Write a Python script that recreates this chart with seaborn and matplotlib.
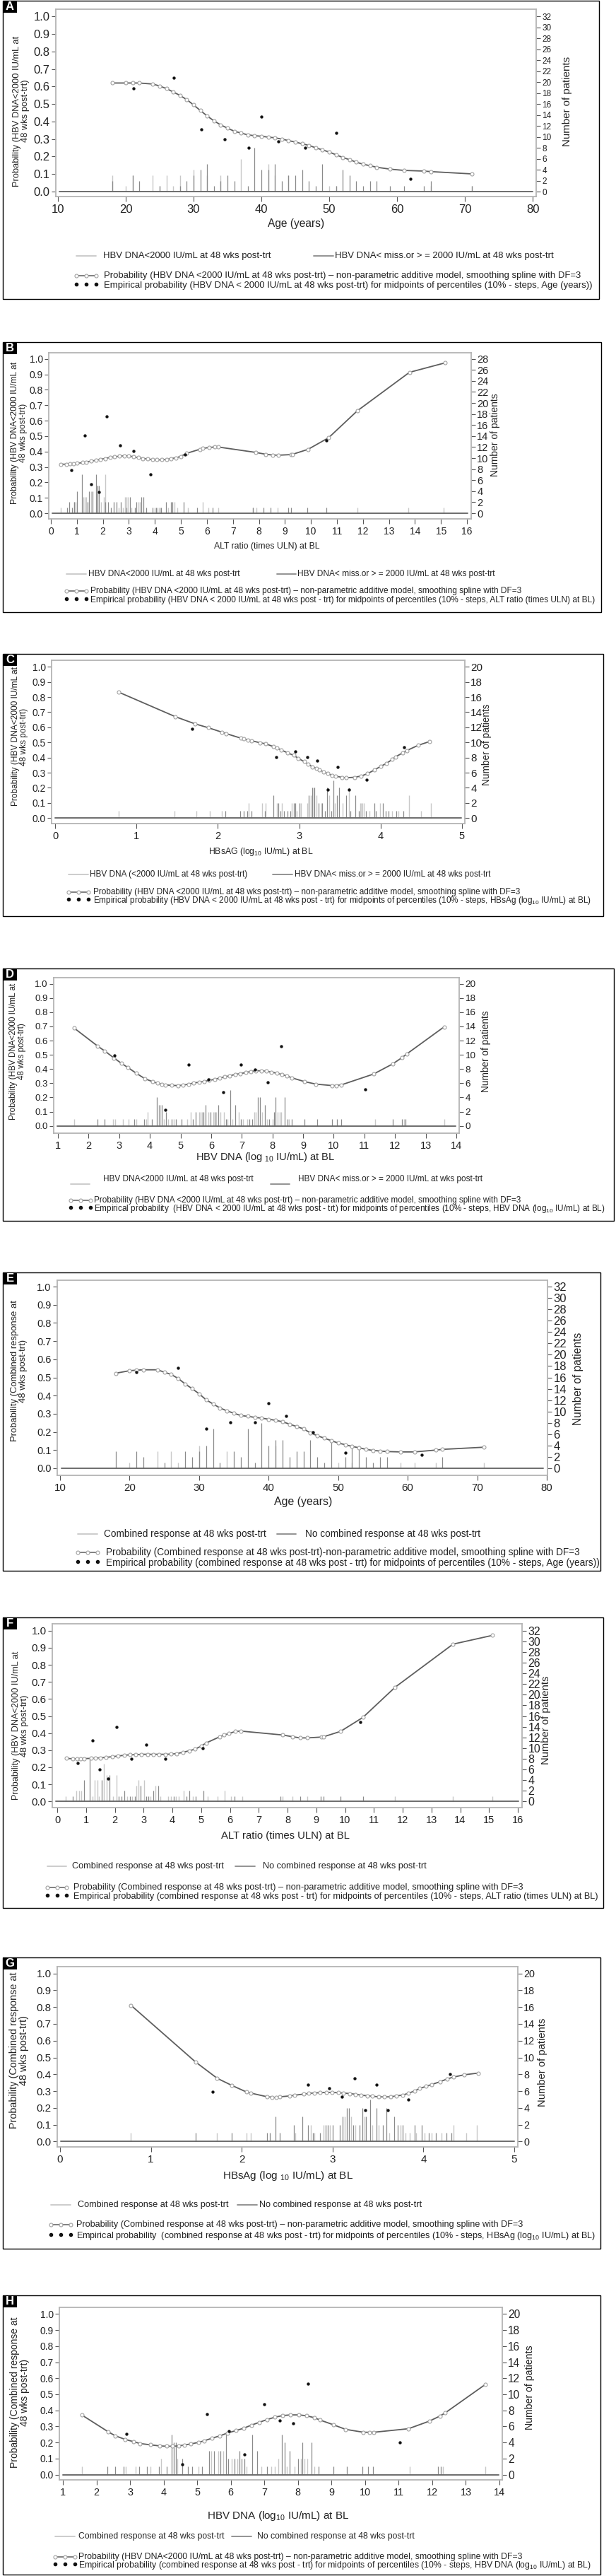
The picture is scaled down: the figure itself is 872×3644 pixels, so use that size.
import matplotlib
matplotlib.use("Agg")
import matplotlib.pyplot as plt
import seaborn as sns
from matplotlib.lines import Line2D
from matplotlib.patches import Rectangle

# ---------------------------------------------------------------- DATA
# Panel A / E : Age (years)
A_needle_x = [18, 20, 21, 22, 24, 25, 26, 27, 28, 29, 30, 31, 32, 33, 34, 35, 36, 37, 38, 39, 40, 41, 42,
              43, 44, 45, 46, 47, 48, 49, 50, 51, 52, 53, 54, 55, 56, 57, 59, 61, 64, 65, 71]
A_resp = [3, 1, 3, 0, 3, 1, 3, 1, 3, 0, 4, 0, 3, 0, 3, 0, 0, 6, 0, 0, 0, 5, 3,
          0, 3, 0, 0, 0, 0, 0, 1, 1, 0, 0, 0, 0, 0, 0, 0, 0, 0, 1, 1]
A_noresp = [2, 0, 3, 2, 0, 1, 0, 0, 1, 2, 3, 4, 5, 1, 2, 3, 2, 0, 1, 8, 4, 4, 5,
            2, 3, 3, 4, 2, 1, 5, 0, 1, 4, 3, 2, 1, 2, 2, 1, 1, 1, 2, 1]
A_curve_x = [18, 20, 21, 22, 24, 25, 26, 27, 28, 29, 30, 31, 32, 33, 34, 35, 36, 37, 38, 39, 40, 41, 42,
             43, 44, 45, 46, 47, 48, 49, 50, 51, 52, 53, 54, 55, 56, 57, 59, 61, 64, 65, 71]
A_curve_y = [0.620, 0.620, 0.620, 0.620, 0.614, 0.603, 0.588, 0.569, 0.549, 0.525, 0.495, 0.463, 0.432,
             0.404, 0.381, 0.362, 0.345, 0.334, 0.324, 0.319, 0.316, 0.311, 0.307, 0.300, 0.291, 0.283,
             0.273, 0.264, 0.250, 0.238, 0.226, 0.210, 0.195, 0.182, 0.168, 0.156, 0.148, 0.139, 0.128,
             0.121, 0.117, 0.114, 0.101]
A_emp_x = [21.1, 27.1, 31.1, 34.6, 38.1, 40.0, 42.5, 46.5, 51.0, 62.0]
A_emp_y = [0.588, 0.650, 0.357, 0.300, 0.249, 0.428, 0.285, 0.249, 0.334, 0.071]

E_needle_x = [18, 20, 21, 22, 24, 25, 26, 27, 28, 29, 30, 31, 32, 33, 34, 35, 36, 37, 38, 39, 40, 41, 42,
              43, 44, 45, 46, 47, 48, 49, 50, 51, 52, 53, 54, 55, 56, 57, 59, 61, 64, 65, 71]
E_resp = [0, 1, 0, 0, 3, 0, 3, 1, 0, 0, 4, 0, 0, 0, 3, 0, 0, 0, 0, 0, 0, 4, 0,
          0, 0, 0, 0, 0, 0, 0, 1, 0, 1, 0, 0, 0, 0, 0, 1, 1, 1, 0, 1]
E_noresp = [3, 0, 3, 2, 0, 1, 0, 0, 3, 2, 3, 4, 7, 1, 0, 3, 2, 7, 1, 8, 4, 5, 5,
            2, 3, 3, 5, 2, 1, 5, 0, 2, 4, 4, 2, 1, 2, 2, 0, 0, 0, 2, 0]
E_curve_x = [18, 20, 21, 22, 24, 25, 26, 27, 28, 29, 30, 31, 32, 33, 34, 35, 36, 37, 38, 39, 40, 41, 42,
             43, 44, 45, 46, 47, 48, 49, 50, 51, 52, 53, 54, 55, 56, 57, 59, 61, 64, 65, 71]
E_curve_y = [0.523, 0.537, 0.540, 0.542, 0.542, 0.529, 0.516, 0.494, 0.464, 0.438, 0.410, 0.377, 0.354,
             0.332, 0.316, 0.303, 0.290, 0.286, 0.280, 0.276, 0.270, 0.264, 0.256, 0.243, 0.230, 0.217,
             0.195, 0.179, 0.166, 0.152, 0.139, 0.130, 0.120, 0.113, 0.104, 0.098, 0.095, 0.092, 0.090,
             0.090, 0.100, 0.104, 0.116]
E_emp_x = [21.0, 27.0, 31.0, 34.5, 38.0, 40.0, 42.5, 46.4, 51.0, 62.0]
E_emp_y = [0.529, 0.551, 0.216, 0.251, 0.251, 0.359, 0.289, 0.200, 0.085, 0.074]

# Panel B / F : ALT ratio (times ULN)
B_needle_x = [0.37, 0.62, 0.71, 0.82, 0.89, 0.95, 1.01, 1.20, 1.25, 1.31, 1.36, 1.42, 1.48, 1.54, 1.61,
              1.73, 1.80, 1.86, 1.93, 2.05, 2.10, 2.21, 2.32, 2.41, 2.52, 2.62, 2.70, 2.77, 2.84, 2.90,
              2.97, 3.03, 3.09, 3.22, 3.29, 3.36, 3.41, 3.47, 3.56, 3.66, 3.92, 3.98, 4.05, 4.11, 4.18,
              4.23, 4.43, 4.52, 4.61, 4.67, 4.75, 4.87, 5.12, 5.26, 5.62, 5.85, 6.05, 6.21, 6.43, 7.78,
              7.90, 8.17, 8.46, 8.71, 9.13, 9.24, 9.85, 10.60, 11.78, 13.75, 15.10]
B_resp = [1, 0, 0, 0, 2, 2, 0, 0, 3, 3, 3, 0, 0, 4, 0, 0, 5, 0, 2, 3, 7, 0, 0, 0, 0, 1, 0, 1, 3, 3,
          3, 0, 1, 0, 0, 2, 2, 0, 0, 0, 0, 1, 0, 1, 0, 0, 0, 1, 0, 0, 2, 1, 0, 1, 0, 2, 1, 0, 1, 1,
          1, 0, 0, 1, 0, 0, 0, 0, 1, 1, 1]
B_noresp = [0, 1, 2, 1, 2, 0, 4, 7, 0, 0, 0, 2, 4, 0, 4, 7, 5, 5, 0, 0, 2, 2, 1, 2, 2, 0, 2, 0, 0, 1,
            0, 3, 0, 1, 2, 0, 0, 3, 3, 1, 1, 0, 1, 0, 1, 1, 2, 0, 2, 2, 0, 0, 2, 0, 1, 0, 0, 1, 0, 1,
            0, 1, 1, 0, 1, 1, 1, 1, 0, 0, 0]
B_curve_x = [0.37, 0.60, 0.73, 0.87, 1.00, 1.23, 1.37, 1.55, 1.73, 1.91, 2.09, 2.27, 2.45, 2.64, 2.82,
             3.00, 3.18, 3.36, 3.54, 3.72, 3.90, 4.08, 4.27, 4.45, 4.63, 4.81, 4.99, 5.22, 5.72, 5.85,
             6.08, 6.30, 6.44, 7.88, 8.26, 8.53, 8.76, 9.24, 9.30, 9.89, 10.68, 11.78, 13.79, 15.15]
B_curve_y = [0.317, 0.318, 0.320, 0.321, 0.323, 0.328, 0.332, 0.337, 0.343, 0.349, 0.355, 0.361, 0.366,
             0.369, 0.372, 0.371, 0.366, 0.360, 0.355, 0.351, 0.348, 0.346, 0.346, 0.349, 0.354, 0.359,
             0.368, 0.388, 0.414, 0.420, 0.426, 0.429, 0.429, 0.394, 0.382, 0.377, 0.376, 0.380, 0.382,
             0.414, 0.489, 0.663, 0.913, 0.974]
B_emp_x = [0.80, 1.30, 1.56, 1.84, 2.15, 2.65, 3.17, 3.82, 5.15, 10.60]
B_emp_y = [0.279, 0.504, 0.189, 0.136, 0.626, 0.440, 0.403, 0.252, 0.379, 0.470]

F_needle_x = [0.30, 0.54, 0.66, 0.75, 0.84, 0.93, 1.13, 1.22, 1.29, 1.39, 1.45, 1.54, 1.63, 1.73, 1.82,
              1.93, 2.05, 2.14, 2.24, 2.34, 2.42, 2.52, 2.61, 2.70, 2.76, 2.82, 2.89, 3.01, 3.09, 3.17,
              3.24, 3.34, 3.42, 3.50, 3.58, 3.85, 3.95, 4.04, 4.12, 4.22, 4.40, 4.49, 4.60, 4.70, 4.81,
              5.08, 5.22, 5.58, 5.81, 6.03, 6.17, 6.43, 7.76, 7.83, 8.17, 8.44, 8.69, 9.16, 9.26, 9.84,
              10.62, 11.74, 13.75, 15.11]
F_resp = [1, 0, 2, 2, 2, 0, 0, 1, 4, 4, 1, 0, 7, 5, 0, 1, 5, 0, 0, 0, 1, 0, 1, 0, 3, 4, 0, 4, 0, 0,
          1, 0, 3, 0, 1, 1, 1, 0, 1, 1, 2, 0, 0, 1, 0, 0, 1, 1, 2, 1, 0, 1, 0, 1, 1, 0, 1, 0, 0, 0,
          0, 1, 1, 1]
F_noresp = [0, 1, 0, 0, 0, 4, 8, 0, 0, 0, 0, 4, 0, 0, 5, 0, 0, 1, 1, 2, 0, 1, 0, 1, 0, 0, 3, 0, 1, 1,
            0, 2, 0, 3, 0, 0, 0, 1, 0, 0, 0, 1, 2, 0, 1, 2, 0, 0, 0, 0, 1, 0, 1, 0, 0, 1, 0, 1, 1, 1,
            1, 0, 0, 0]
F_curve_x = [0.31, 0.54, 0.68, 0.81, 0.93, 1.18, 1.32, 1.50, 1.70, 1.91, 2.11, 2.32, 2.52, 2.73, 2.93,
             3.13, 3.34, 3.54, 3.75, 3.95, 4.15, 4.38, 4.59, 4.79, 5.00, 5.17, 5.65, 5.79, 5.96, 6.19,
             6.38, 7.83, 8.17, 8.44, 8.69, 9.19, 9.26, 9.84, 10.62, 11.74, 13.75, 15.11]
F_curve_y = [0.252, 0.250, 0.250, 0.250, 0.251, 0.252, 0.254, 0.255, 0.258, 0.262, 0.266, 0.270, 0.273,
             0.274, 0.276, 0.276, 0.276, 0.276, 0.276, 0.277, 0.280, 0.288, 0.297, 0.306, 0.324, 0.342,
             0.379, 0.389, 0.397, 0.410, 0.412, 0.389, 0.379, 0.372, 0.372, 0.377, 0.379, 0.410, 0.492,
             0.669, 0.921, 0.972]
F_emp_x = [0.72, 1.22, 1.47, 1.77, 2.06, 2.57, 3.09, 3.75, 5.06, 10.52]
F_emp_y = [0.225, 0.356, 0.186, 0.134, 0.437, 0.248, 0.334, 0.248, 0.313, 0.466]

# Panel C / G : HBsAg (log10 IU/mL)
C_needle_x = [0.78, 1.47, 1.74, 1.90, 2.05, 2.09, 2.27, 2.32, 2.36, 2.38, 2.41, 2.54, 2.58, 2.59, 2.68,
              2.73, 2.74, 2.77, 2.79, 2.81, 2.86, 2.89, 2.91, 2.93, 2.95, 2.97, 3.00, 3.02, 3.10, 3.12,
              3.14, 3.16, 3.18, 3.19, 3.21, 3.24, 3.27, 3.28, 3.32, 3.34, 3.37, 3.39, 3.42, 3.44, 3.46,
              3.49, 3.53, 3.58, 3.61, 3.63, 3.69, 3.73, 3.75, 3.77, 3.79, 3.82, 3.86, 3.92, 3.94, 3.99,
              4.03, 4.06, 4.10, 4.14, 4.19, 4.22, 4.28, 4.35, 4.50, 4.62]
C_resp = [1, 1, 1, 1, 1, 0, 0, 0, 0, 2, 0, 2, 0, 2, 0, 2, 0, 0, 2, 0, 0, 0, 2, 0, 0, 1, 0, 2, 2, 0,
          3, 0, 4, 0, 3, 0, 2, 0, 0, 0, 3, 0, 0, 2, 0, 0, 2, 0, 4, 0, 0, 0, 2, 0, 2, 0, 1, 0, 0, 2,
          0, 0, 0, 1, 0, 1, 0, 3, 1, 2]
C_noresp = [0, 0, 0, 0, 0, 1, 1, 1, 1, 0, 1, 0, 1, 0, 3, 0, 2, 1, 0, 1, 1, 1, 0, 2, 2, 0, 2, 0, 0, 3,
            0, 4, 0, 4, 0, 2, 0, 2, 1, 4, 0, 1, 5, 0, 3, 4, 0, 3, 0, 1, 3, 1, 0, 2, 0, 1, 0, 2, 1, 0,
            2, 1, 1, 0, 1, 0, 1, 0, 0, 0]
C_curve_x = [0.78, 1.48, 1.72, 1.88, 2.05, 2.10, 2.28, 2.32, 2.37, 2.41, 2.52, 2.59, 2.68, 2.73, 2.78,
             2.86, 2.93, 2.99, 3.06, 3.11, 3.16, 3.21, 3.25, 3.30, 3.35, 3.40, 3.45, 3.52, 3.58, 3.68,
             3.76, 3.84, 3.92, 4.00, 4.07, 4.14, 4.18, 4.27, 4.32, 4.46, 4.60]
C_curve_y = [0.833, 0.670, 0.623, 0.598, 0.568, 0.559, 0.529, 0.523, 0.517, 0.512, 0.498, 0.491, 0.473,
             0.462, 0.450, 0.431, 0.415, 0.395, 0.373, 0.356, 0.340, 0.330, 0.319, 0.306, 0.294, 0.283,
             0.277, 0.270, 0.267, 0.270, 0.278, 0.294, 0.317, 0.342, 0.361, 0.387, 0.404, 0.431, 0.446,
             0.481, 0.506]
C_emp_x = [1.68, 2.72, 2.95, 3.10, 3.22, 3.35, 3.47, 3.61, 3.83, 4.29]
C_emp_y = [0.592, 0.405, 0.442, 0.405, 0.380, 0.190, 0.338, 0.190, 0.255, 0.470]

G_needle_x = [0.78, 1.49, 1.73, 1.89, 2.05, 2.10, 2.28, 2.31, 2.37, 2.42, 2.57, 2.59, 2.67, 2.73, 2.76,
              2.78, 2.80, 2.86, 2.90, 2.92, 2.95, 2.97, 3.00, 3.08, 3.11, 3.13, 3.16, 3.18, 3.20, 3.23,
              3.25, 3.30, 3.33, 3.35, 3.37, 3.41, 3.44, 3.48, 3.51, 3.55, 3.59, 3.62, 3.68, 3.72, 3.75,
              3.77, 3.80, 3.85, 3.90, 3.92, 3.98, 4.01, 4.06, 4.09, 4.14, 4.20, 4.25, 4.31, 4.33, 4.47,
              4.59]
G_resp = [1, 0, 1, 0, 1, 1, 0, 0, 0, 0, 0, 1, 0, 0, 2, 0, 1, 0, 2, 0, 0, 2, 0, 0, 0, 3, 0, 0, 3, 0,
          2, 0, 0, 3, 0, 0, 2, 0, 2, 0, 0, 1, 0, 0, 2, 0, 1, 1, 0, 1, 0, 1, 0, 1, 0, 1, 0, 0, 2, 1, 2]
G_noresp = [0, 1, 0, 1, 0, 0, 1, 1, 3, 1, 2, 0, 3, 2, 0, 1, 0, 1, 0, 2, 2, 0, 2, 2, 3, 0, 4, 4, 0, 2,
            0, 2, 4, 0, 3, 5, 0, 4, 0, 2, 4, 0, 3, 2, 0, 2, 0, 0, 2, 0, 2, 0, 1, 0, 1, 0, 1, 1, 0, 0, 0]
G_curve_x = [0.78, 1.49, 1.73, 1.89, 2.05, 2.10, 2.28, 2.33, 2.38, 2.42, 2.53, 2.58, 2.68, 2.74, 2.80,
             2.86, 2.93, 2.99, 3.06, 3.12, 3.19, 3.25, 3.31, 3.38, 3.44, 3.51, 3.57, 3.64, 3.70, 3.77,
             3.83, 3.90, 3.96, 4.03, 4.09, 4.18, 4.26, 4.33, 4.45, 4.60]
G_curve_y = [0.811, 0.474, 0.376, 0.334, 0.295, 0.288, 0.266, 0.264, 0.262, 0.266, 0.271, 0.275, 0.282,
             0.286, 0.289, 0.290, 0.292, 0.292, 0.290, 0.288, 0.285, 0.281, 0.276, 0.272, 0.269, 0.266,
             0.265, 0.266, 0.271, 0.276, 0.286, 0.300, 0.316, 0.328, 0.339, 0.355, 0.372, 0.383, 0.397,
             0.407]
G_emp_x = [1.68, 2.73, 2.96, 3.10, 3.24, 3.36, 3.48, 3.61, 3.83, 4.29]
G_emp_y = [0.295, 0.337, 0.317, 0.268, 0.376, 0.188, 0.337, 0.188, 0.250, 0.401]

# Panel D / H : HBV DNA (log10 IU/mL)
D_needle_x = [1.52, 2.28, 2.53, 2.80, 2.86, 3.13, 3.30, 3.49, 3.57, 3.81, 3.87, 3.93, 4.06, 4.22, 4.29,
              4.33, 4.38, 4.45, 4.52, 4.60, 4.71, 4.77, 4.85, 5.03, 5.21, 5.34, 5.41, 5.49, 5.60, 5.65,
              5.70, 5.75, 5.82, 5.92, 5.98, 6.06, 6.11, 6.17, 6.24, 6.30, 6.41, 6.49, 6.53, 6.63, 6.70,
              6.79, 6.89, 6.96, 7.04, 7.17, 7.25, 7.34, 7.40, 7.45, 7.52, 7.59, 7.66, 7.76, 7.83, 7.89,
              8.00, 8.06, 8.11, 8.16, 8.23, 8.29, 8.40, 8.48, 8.54, 8.63, 9.04, 9.45, 9.94, 10.10, 10.25,
              11.34, 11.93, 12.23, 12.29, 12.34, 13.60]
D_resp = [1, 0, 0, 1, 1, 1, 1, 0, 1, 0, 1, 2, 0, 0, 3, 0, 0, 1, 0, 1, 0, 1, 0, 0, 1, 2, 0, 0, 2, 2,
          2, 0, 0, 2, 0, 2, 0, 2, 0, 2, 2, 0, 1, 0, 1, 0, 2, 0, 1, 1, 0, 0, 2, 2, 0, 0, 2, 0, 1, 0,
          1, 0, 0, 2, 2, 2, 0, 0, 1, 0, 0, 0, 0, 0, 0, 1, 0, 0, 1, 0, 1]
D_noresp = [0, 1, 1, 0, 0, 0, 0, 1, 0, 1, 0, 0, 1, 4, 0, 3, 3, 0, 2, 0, 1, 0, 1, 1, 0, 0, 1, 2, 0, 0,
            0, 2, 3, 0, 2, 0, 2, 0, 3, 0, 0, 1, 0, 5, 0, 3, 0, 1, 0, 0, 1, 1, 0, 0, 4, 4, 0, 3, 0, 1,
            0, 2, 4, 0, 0, 0, 4, 1, 0, 1, 1, 1, 1, 1, 1, 0, 1, 1, 0, 1, 0]
D_curve_x = [1.52, 2.30, 2.53, 2.83, 3.08, 3.29, 3.56, 3.84, 4.08, 4.25, 4.38, 4.50, 4.71, 4.92, 5.09,
             5.26, 5.43, 5.60, 5.77, 5.94, 6.11, 6.28, 6.44, 6.61, 6.78, 6.95, 7.12, 7.29, 7.46, 7.63,
             7.80, 7.97, 8.14, 8.30, 8.47, 8.64, 9.04, 9.42, 9.94, 10.08, 10.25, 11.30, 11.92, 12.23,
             12.38, 13.60]
D_curve_y = [0.690, 0.561, 0.527, 0.478, 0.439, 0.410, 0.370, 0.332, 0.312, 0.300, 0.294, 0.289, 0.285,
             0.284, 0.287, 0.294, 0.302, 0.307, 0.313, 0.320, 0.328, 0.337, 0.345, 0.353, 0.362, 0.368,
             0.375, 0.383, 0.388, 0.388, 0.385, 0.378, 0.371, 0.362, 0.352, 0.338, 0.312, 0.294, 0.284,
             0.284, 0.289, 0.365, 0.436, 0.481, 0.506, 0.697]
D_emp_x = [2.84, 4.50, 5.26, 5.92, 6.39, 6.96, 7.44, 7.84, 8.29, 11.02]
D_emp_y = [0.498, 0.113, 0.433, 0.327, 0.239, 0.433, 0.395, 0.307, 0.561, 0.259]

H_needle_x = [1.56, 2.33, 2.56, 2.81, 2.87, 3.16, 3.28, 3.51, 3.60, 3.86, 3.92, 4.10, 4.24, 4.30, 4.36,
              4.41, 4.56, 4.72, 4.86, 5.03, 5.15, 5.35, 5.42, 5.50, 5.62, 5.70, 5.77, 5.85, 5.93, 6.02,
              6.12, 6.20, 6.26, 6.32, 6.40, 6.47, 6.64, 6.79, 6.91, 7.08, 7.20, 7.32, 7.41, 7.53, 7.61,
              7.67, 7.76, 7.90, 8.00, 8.08, 8.14, 8.20, 8.28, 8.41, 8.49, 8.61, 9.05, 9.46, 9.92, 10.09,
              10.24, 11.33, 12.17, 12.25, 12.32, 13.57]
H_resp = [1, 0, 0, 0, 1, 1, 0, 0, 1, 0, 2, 0, 0, 0, 0, 2, 0, 0, 0, 1, 0, 0, 3, 0, 3, 0, 3, 0, 0, 2,
          0, 2, 0, 0, 0, 1, 0, 0, 1, 0, 1, 1, 2, 0, 0, 1, 0, 1, 0, 2, 0, 2, 2, 0, 1, 0, 0, 0, 0, 0,
          0, 1, 0, 0, 1, 1]
H_noresp = [0, 1, 1, 1, 0, 0, 1, 1, 0, 1, 0, 1, 5, 4, 4, 0, 2, 1, 1, 0, 1, 3, 0, 3, 0, 3, 0, 5, 2, 0,
            2, 0, 3, 2, 2, 0, 5, 3, 0, 1, 0, 0, 0, 5, 4, 0, 3, 0, 2, 0, 4, 0, 0, 4, 0, 1, 1, 1, 1, 1,
            1, 0, 1, 1, 0, 0]
H_curve_x = [1.56, 2.35, 2.56, 2.85, 3.11, 3.30, 3.60, 3.89, 4.10, 4.27, 4.45, 4.62, 4.80, 5.04, 5.21,
             5.44, 5.68, 5.91, 6.15, 6.38, 6.61, 6.85, 7.08, 7.32, 7.55, 7.78, 8.02, 8.25, 8.48, 8.66,
             9.05, 9.42, 9.95, 10.12, 10.26, 11.29, 11.91, 12.23, 12.38, 13.57]
H_curve_y = [0.372, 0.267, 0.242, 0.220, 0.205, 0.194, 0.186, 0.179, 0.177, 0.177, 0.179, 0.185, 0.191,
             0.201, 0.211, 0.227, 0.242, 0.260, 0.274, 0.289, 0.308, 0.326, 0.343, 0.358, 0.368, 0.372,
             0.372, 0.367, 0.355, 0.340, 0.311, 0.282, 0.264, 0.264, 0.264, 0.286, 0.333, 0.365, 0.384,
             0.560]
H_emp_x = [2.90, 4.55, 5.30, 5.95, 6.40, 6.99, 7.46, 7.85, 8.29, 11.04]
H_emp_y = [0.252, 0.065, 0.377, 0.270, 0.128, 0.440, 0.337, 0.318, 0.565, 0.201]

# Texts
YLAB_HBV = "Probability (HBV DNA<2000 IU/mL at\n48 wks post-trt)"
YLAB_CR = "Probability (Combined response at\n48 wks post-trt)"
RLAB = "Number of patients"
PROB_HBV = "Probability (HBV DNA <2000 IU/mL at 48 wks post-trt) \u2013 non-parametric additive model, smoothing spline with DF=3"
PROB_HBV_H = "Probability (HBV DNA<2000 IU/mL at 48 wks post-trt) \u2013 non-parametric additive model, smoothing spline with DF=3"
PROB_CR = "Probability (Combined response at 48 wks post-trt) \u2013 non-parametric additive model, smoothing spline with DF=3"
PROB_CR_E = "Probability (Combined response at 48 wks post-trt)-non-parametric additive model, smoothing spline with DF=3"
LEG_HBV1 = "HBV DNA<2000 IU/mL at 48 wks post-trt"
LEG_HBV2 = "HBV DNA< miss.or > = 2000 IU/mL at 48 wks post-trt"
LEG_CR1 = "Combined response at 48 wks post-trt"
LEG_CR2 = "No combined response at 48 wks post-trt"

# ---------------------------------------------------------------- LAYOUT
W, H = 872, 3644
sns.set_theme(style="ticks")
plt.rcParams["font.family"] = ["Liberation Sans", "DejaVu Sans"]
plt.rcParams["mathtext.fontset"] = "custom"
plt.rcParams["mathtext.rm"] = "Liberation Sans"
plt.rcParams["mathtext.it"] = "Liberation Sans:italic"
plt.rcParams["mathtext.bf"] = "Liberation Sans:bold"

fig = plt.figure(figsize=(W / 100, H / 100), dpi=100)
fig.patch.set_facecolor("white")
ov = fig.add_axes([0, 0, 1, 1])
ov.set_xlim(0, W)
ov.set_ylim(H, 0)
ov.axis("off")
ov.set_zorder(20)
ov.patch.set_visible(False)
renderer = fig.canvas.get_renderer()

panels = [
    dict(key="A", nx=A_needle_x, r=A_resp, n=A_noresp, cx=A_curve_x, cy=A_curve_y, ex=A_emp_x, ey=A_emp_y,
         box=(4, 1, 848, 423), frame=(79, 13, 759, 278), y0=271, y1=23.3, xmap=(10, 82, 80, 754),
         xticks=list(range(10, 81, 10)), rmax=32, ylab=YLAB_HBV, ylxy=(30, 157),
         xlab="Age (years)", xlxy=(419, 317), rlxy=(803, 143),
         leg1=(LEG_HBV1, LEG_HBV2), leg2=PROB_HBV,
         leg3="Empirical probability (HBV DNA < 2000 IU/mL at 48 wks post-trt) for midpoints of percentiles (10% - steps, Age (years))",
         r1y=362, r1ly=362, l1=(108, 136), t1x=146, l2=(444, 472), t2x=474, r2y=390, r3y=404, sx=(108, 136),
         tx=147, tend=842, fs=dict(lt=12, xt=12, rt=8.5, yl=9.3, xl=11.2, rl=10.8)),
    dict(key="B", nx=B_needle_x, r=B_resp, n=B_noresp, cx=B_curve_x, cy=B_curve_y, ex=B_emp_x, ey=B_emp_y,
         box=(4, 484, 851, 866), frame=(69, 499, 667, 734), y0=726, y1=507.7, xmap=(0, 72, 16, 661),
         xticks=list(range(0, 17)), rmax=28, ylab=YLAB_HBV, ylxy=(27, 612),
         xlab="ALT ratio (times ULN) at BL", xlxy=(378, 773), rlxy=(701, 615),
         leg1=(LEG_HBV1, LEG_HBV2), leg2=PROB_HBV,
         leg3="Empirical probability (HBV DNA < 2000 IU/mL at 48 wks post - trt) for midpoints of percentiles (10% - steps, ALT ratio (times ULN) at BL)",
         r1y=812, r1ly=812, l1=(94, 122), t1x=125, l2=(392, 419), t2x=421, r2y=836, r3y=849, sx=(94, 122),
         tx=128, tend=847, fs=dict(lt=10, xt=10, rt=10.5, yl=8.7, xl=8.8, rl=10)),
    dict(key="C", nx=C_needle_x, r=C_resp, n=C_noresp, cx=C_curve_x, cy=C_curve_y, ex=C_emp_x, ey=C_emp_y,
         box=(4, 925, 854, 1296), frame=(73, 934, 658, 1165), y0=1157.3, y1=943.3, xmap=(0, 78, 5, 654),
         xticks=list(range(0, 6)), rmax=20, ylab=YLAB_HBV, ylxy=(28, 1042),
         xlab="HBsAG (log$_{10}$ IU/mL) at BL", xlxy=(369, 1205), rlxy=(689, 1053),
         leg1=("HBV DNA (<2000 IU/mL at 48 wks post-trt)", LEG_HBV2), leg2=PROB_HBV,
         leg3="Empirical probability (HBV DNA < 2000 IU/mL at 48 wks post - trt) for midpoints of percentiles (10% - steps, HBsAg (log$_{10}$ IU/mL) at BL)",
         r1y=1237, r1ly=1237, l1=(97, 125), t1x=127, l2=(386, 414), t2x=417, r2y=1262, r3y=1274, sx=(97, 125),
         tx=132, tend=839, fs=dict(lt=10, xt=10.5, rt=11, yl=8.6, xl=8.8, rl=9.8)),
    dict(key="D", nx=D_needle_x, r=D_resp, n=D_noresp, cx=D_curve_x, cy=D_curve_y, ex=D_emp_x, ey=D_emp_y,
         box=(4, 1370, 869, 1727), frame=(76, 1383, 650, 1603), y0=1592.7, y1=1391.7, xmap=(1, 82, 14, 646),
         xticks=list(range(1, 15)), rmax=20, ylab=YLAB_HBV, ylxy=(25, 1487),
         xlab="HBV DNA (log $_{10}$ IU/mL) at BL", xlxy=(376, 1637), rlxy=(688, 1487),
         leg1=(LEG_HBV1, "HBV DNA< miss.or > = 2000 IU/mL at wks post-trt"), leg2=PROB_HBV,
         leg3="Empirical probability  (HBV DNA < 2000 IU/mL at 48 wks post - trt) for midpoints of percentiles (10% - steps, HBV DNA (log$_{10}$ IU/mL) at BL)",
         r1y=1668, r1ly=1675, l1=(100, 127), t1x=146, l2=(383, 410), t2x=422, r2y=1698, r3y=1710, sx=(100, 128),
         tx=133, tend=860, fs=dict(lt=9.5, xt=10.5, rt=9.7, yl=8.4, xl=10.5, rl=9.8)),
    dict(key="E", nx=E_needle_x, r=E_resp, n=E_noresp, cx=E_curve_x, cy=E_curve_y, ex=E_emp_x, ey=E_emp_y,
         box=(4, 1800, 850, 2222), frame=(81, 1811, 775, 2087), y0=2077, y1=1820, xmap=(10, 85, 80, 774),
         xticks=list(range(10, 81, 10)), rmax=32, ylab=YLAB_CR, ylxy=(27, 1939),
         xlab="Age (years)", xlxy=(429, 2125), rlxy=(819, 1950),
         leg1=(LEG_CR1, LEG_CR2), leg2=PROB_CR_E,
         leg3="Empirical probability (combined response at 48 wks post - trt) for midpoints of percentiles (10% - steps, Age (years))",
         r1y=2170, r1ly=2170, l1=(110, 138), t1x=147, l2=(392, 419), t2x=432, r2y=2196, r3y=2211, sx=(110, 138),
         tx=150, tend=849, fs=dict(lt=10.5, xt=10.8, rt=12, yl=9.4, xl=11.4, rl=11.2)),
    dict(key="F", nx=F_needle_x, r=F_resp, n=F_noresp, cx=F_curve_x, cy=F_curve_y, ex=F_emp_x, ey=F_emp_y,
         box=(4, 2288, 854, 2699), frame=(74, 2297, 739, 2557), y0=2548.3, y1=2306.7, xmap=(0, 81, 16, 733),
         xticks=list(range(0, 17)), rmax=32, ylab=YLAB_HBV, ylxy=(29, 2441),
         xlab="ALT ratio (times ULN) at BL", xlxy=(404, 2597), rlxy=(773, 2433),
         leg1=(LEG_CR1, LEG_CR2), leg2=PROB_CR,
         leg3="Empirical probability (combined response at 48 wks post - trt) for midpoints of percentiles (10% - steps, ALT ratio (times ULN) at BL)",
         r1y=2640, r1ly=2640, l1=(67, 94), t1x=102, l2=(333, 361), t2x=372, r2y=2670, r3y=2683, sx=(67, 94),
         tx=104, tend=847, fs=dict(lt=11, xt=10.5, rt=11.5, yl=9.2, xl=10.7, rl=10.6)),
    dict(key="G", nx=G_needle_x, r=G_resp, n=G_noresp, cx=G_curve_x, cy=G_curve_y, ex=G_emp_x, ey=G_emp_y,
         box=(4, 2769, 850, 3181), frame=(81, 2782, 733, 3037), y0=3029.3, y1=2791.7, xmap=(0, 85, 5, 728),
         xticks=list(range(0, 6)), rmax=20, ylab=YLAB_CR, ylxy=(27, 2900),
         xlab="HBsAg (log $_{10}$ IU/mL) at BL", xlxy=(408, 3078), rlxy=(768, 2917),
         leg1=(LEG_CR1, LEG_CR2), leg2=PROB_CR,
         leg3="Empirical probability  (combined response at 48 wks post - trt) for midpoints of percentiles (10% - steps, HBsAg (log$_{10}$ IU/mL) at BL)",
         r1y=3119, r1ly=3119, l1=(72, 100), t1x=110, l2=(336, 364), t2x=367, r2y=3147, r3y=3163, sx=(72, 100),
         tx=108, tend=843, fs=dict(lt=11, xt=11, rt=10.4, yl=10.4, xl=11, rl=10.6)),
    dict(key="H", nx=H_needle_x, r=H_resp, n=H_noresp, cx=H_curve_x, cy=H_curve_y, ex=H_emp_x, ey=H_emp_y,
         box=(4, 3247, 850, 3642), frame=(84, 3264, 711, 3508), y0=3500.7, y1=3273.3, xmap=(1, 89, 14, 707),
         xticks=list(range(1, 15)), rmax=20, ylab=YLAB_CR, ylxy=(28, 3384),
         xlab="HBV DNA (log$_{10}$ IU/mL) at BL", xlxy=(394, 3559), rlxy=(750, 3377),
         leg1=(LEG_CR1, LEG_CR2), leg2=PROB_HBV_H,
         leg3="Empirical probability (combined response at 48 wks post - trt) for midpoints of percentiles (10% - steps, HBV DNA (log$_{10}$ IU/mL) at BL)",
         r1y=3588, r1ly=3588, l1=(78, 106), t1x=111, l2=(328, 356), t2x=364, r2y=3617, r3y=3629, sx=(78, 106),
         tx=111, tend=836, fs=dict(lt=10, xt=10.4, rt=11.2, yl=10, xl=11, rl=10.2)),
]

LIGHT = "#c8c8c8"
DARK = "#8a8a8a"
CURVE = "#5e5e5e"
MEDGE = "#a2a2a2"
FRAME = "#b4b4b4"

for p in panels:
    L, T, R, B = p["frame"]
    fw, fh = R - L, B - T
    ax = fig.add_axes([L / W, 1 - B / H, fw / W, fh / H])
    ax2 = ax.twinx()
    ax.set_zorder(ax2.get_zorder() + 1)
    ax.patch.set_visible(False)

    # scales
    per_y = p["y0"] - p["y1"]
    ylo = -(B - p["y0"]) / per_y
    yhi = 1 + (p["y1"] - T) / per_y
    v0, p0, v1, p1 = p["xmap"]
    per_x = (p1 - p0) / (v1 - v0)
    xlo = v0 - (p0 - L) / per_x
    xhi = v1 + (R - p1) / per_x
    ax.set_xlim(xlo, xhi)
    ax.set_ylim(ylo, yhi)
    ax2.set_ylim(ylo * p["rmax"], yhi * p["rmax"])

    # needles (number of patients, right axis)
    ax2.vlines(p["nx"], 0, p["r"], colors=LIGHT, lw=1.0, zorder=2)
    ax2.vlines(p["nx"], 0, p["n"], colors=DARK, lw=0.9, zorder=3)
    ax2.axhline(0, xmin=0.008, xmax=0.992, color="#6c6c6c", lw=1.4, zorder=4)

    # smoothing spline probability
    sns.lineplot(x=p["cx"], y=p["cy"], ax=ax, color=CURVE, lw=1.3, marker="o", markersize=3.6,
                 markerfacecolor="white", markeredgecolor=MEDGE, markeredgewidth=0.8,
                 sort=False, estimator=None, zorder=5)
    # empirical probability
    sns.scatterplot(x=p["ex"], y=p["ey"], ax=ax, color="#111111", s=10, linewidth=0, zorder=6)

    fs = p["fs"]
    ax.set_yticks([i / 10 for i in range(11)])
    ax.set_yticklabels([f"{i / 10:.1f}" for i in range(11)])
    ax.set_xticks(p["xticks"])
    ax.set_xticklabels([str(v) for v in p["xticks"]])
    ax.tick_params(axis="y", left=True, right=False, length=4, width=0.8, color="#555555",
                   labelsize=fs["lt"], pad=2, labelcolor="#222222")
    ax.tick_params(axis="x", bottom=True, length=5, width=0.8, color="#555555",
                   labelsize=fs["xt"], pad=3, labelcolor="#222222")
    ax2.set_yticks(list(range(0, p["rmax"] + 1, 2)))
    ax2.tick_params(axis="y", right=True, left=False, length=4, width=0.8, color="#555555",
                    labelsize=fs["rt"], pad=2, labelcolor="#222222")
    for sp in ax.spines.values():
        sp.set_color(FRAME)
        sp.set_linewidth(1.3)
    for sp in ax2.spines.values():
        sp.set_visible(False)

    # axis labels
    ax.set_xlabel(p["xlab"], fontsize=fs["xl"], color="#222222")
    ax.xaxis.set_label_coords((p["xlxy"][0] - L) / fw, (B - p["xlxy"][1]) / fh)
    ax.xaxis.label.set_va("center")
    ax.set_ylabel(p["ylab"], fontsize=fs["yl"], color="#222222", linespacing=1.0)
    ax.yaxis.label.set_rotation_mode("default")
    ax.yaxis.label.set_ha("center")
    ax.yaxis.label.set_va("center")
    ax.yaxis.set_label_coords((p["ylxy"][0] - L) / fw, (B - p["ylxy"][1]) / fh)
    ax2.set_ylabel(RLAB, fontsize=fs["rl"], color="#222222")
    ax2.yaxis.label.set_rotation_mode("default")
    ax2.yaxis.label.set_ha("center")
    ax2.yaxis.label.set_va("center")
    ax2.yaxis.set_label_coords((p["rlxy"][0] - L) / fw, (B - p["rlxy"][1]) / fh)

    # panel frame and letter
    bl, bt, br, bb = p["box"]
    ov.add_patch(Rectangle((bl, bt), br - bl, bb - bt, fill=False, ec="black", lw=1.0))
    ov.add_patch(Rectangle((bl, bt), 20, 17, fc="black", ec="black", lw=0))
    ov.text(bl + 10, bt + 8.5, p["key"], color="white", fontsize=12, fontweight="bold",
            ha="center", va="center")

    # legend (manual, fitted to the reference width)
    t3 = ov.text(p["tx"], p["r3y"], p["leg3"], fontsize=10, ha="left", va="center", color="#222222")
    bbox = t3.get_window_extent(renderer=renderer)
    lfs = 10 * (p["tend"] - p["tx"]) / bbox.width
    t3.set_fontsize(lfs)
    ov.text(p["tx"], p["r2y"], p["leg2"], fontsize=lfs, ha="left", va="center", color="#222222")
    ov.text(p["t1x"], p["r1y"], p["leg1"][0], fontsize=lfs, ha="left", va="center", color="#222222")
    ov.text(p["t2x"], p["r1y"], p["leg1"][1], fontsize=lfs, ha="left", va="center", color="#222222")
    ov.add_line(Line2D(list(p["l1"]), [p["r1ly"]] * 2, color=LIGHT, lw=1.3))
    ov.add_line(Line2D(list(p["l2"]), [p["r1ly"]] * 2, color=DARK, lw=1.3))
    sx0, sx1 = p["sx"]
    smid = (sx0 + sx1) / 2
    ov.add_line(Line2D([sx0, smid, sx1], [p["r2y"]] * 3, color=CURVE, lw=1.1, marker="o", markersize=3.6,
                       markerfacecolor="white", markeredgecolor=MEDGE, markeredgewidth=0.8))
    ov.add_line(Line2D([sx0, smid, sx1], [p["r3y"] - 2] * 3, lw=0, marker="o", markersize=3,
                       color="#111111"))

fig.savefig("out.png", dpi=100, facecolor="white")
